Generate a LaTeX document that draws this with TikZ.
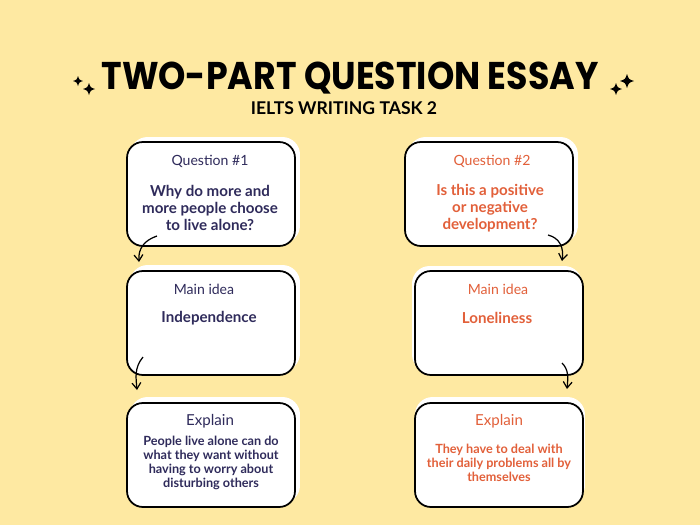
\documentclass[tikz,border=0pt]{standalone}
\usepackage{fontspec}
\setmainfont{Lato}
\newfontfamily\titlefont{Poppins}
\usetikzlibrary{arrows.meta}
\definecolor{bgyellow}{HTML}{FEE9A2}
\definecolor{navy}{HTML}{2F2B5B}
\definecolor{brick}{HTML}{E2603A}
\tikzset{
  box/.style={draw=black, line width=1pt, fill=white, rounded corners=9pt,
    minimum width=3.36cm, minimum height=2.08cm, inner sep=0pt},
  halo/.style={fill=white, rounded corners=10pt, minimum width=3.4cm,
    minimum height=2.12cm, inner sep=0pt},
  head/.style={font=\fontsize{8}{10}\selectfont, align=center},
  body/.style={font=\fontsize{8.6}{9.7}\selectfont\bfseries, align=center},
  small/.style={font=\fontsize{7.2}{8}\selectfont\bfseries, align=center},
  flow/.style={-{Straight Barb[length=3.5pt,width=5pt]}, line width=0.7pt},
  sparkle/.pic={\fill (0,-1) .. controls (0.25,-0.25) .. (1,0) .. controls (0.25,0.25) .. (0,1)
    .. controls (-0.25,0.25) .. (-1,0) .. controls (-0.25,-0.25) .. cycle;}
}
\begin{document}
\begin{tikzpicture}[x=0.02cm,y=-0.02cm]
  \fill[bgyellow] (0,0) rectangle (700,525);
  \useasboundingbox (0,0) rectangle (700,525);

  % title
  \node[font=\titlefont\fontsize{22}{26}\selectfont\bfseries] (title) at (350,78) {\scalebox{0.9}[1]{TWO-PART QUESTION ESSAY}};
  \node[font=\fontsize{10}{12}\selectfont\bfseries] (subtitle) at (344,108) {IELTS WRITING TASK 2};
  \pic[scale=5] at (78,81) {sparkle};
  \pic[scale=6] at (89,89) {sparkle};
  \pic[scale=7] at (627,81) {sparkle};
  \pic[scale=6] at (616,89) {sparkle};

  % white halos behind the boxes
  \node[halo] at (215,190) {};
  \node[halo] at (215,318) {};
  \node[halo] at (215,450) {};
  \node[halo] at (493,190) {};
  \node[halo] at (497,319) {};
  \node[halo] at (500,450) {};

  % left column
  \node[box] (q1) at (211,194) {};
  \node[box] (m1) at (211,323) {};
  \node[box] (e1) at (211,455) {};
  \node[head, navy] (q1h) at (210,161) {Question \#1};
  \node[body, navy] (q1t) at (210,208) {Why do more and\\more people choose\\to live alone?};
  \node[head, navy] (m1h) at (204,289) {Main idea};
  \node[body, navy] (m1t) at (209,318) {Independence};
  \node[head, navy, font=\fontsize{8.6}{10}\selectfont] (e1h) at (210,421) {Explain};
  \node[small, navy] (e1t) at (211,463) {People live alone can do\\what they want without\\having to worry about\\disturbing others};

  % right column
  \node[box] (q2) at (489,194) {};
  \node[box] (m2) at (499,323) {};
  \node[box] (e2) at (499,455) {};
  \node[head, brick] (q2h) at (492,161) {Question \#2};
  \node[body, brick] (q2t) at (490,208) {Is this a positive\\or negative\\development?};
  \node[head, brick] (m2h) at (498,289) {Main idea};
  \node[body, brick] (m2t) at (497,318) {Loneliness};
  \node[head, brick, font=\fontsize{8.6}{10}\selectfont] (e2h) at (499,421) {Explain};
  \node[small, brick] (e2t) at (499,463) {They have to deal with\\their daily problems all by\\themselves};

  % connectors
  \coordinate (a1) at (157,236);
  \coordinate (a2) at (139,262);
  \coordinate (b1) at (143,357);
  \coordinate (b2) at (137,390);
  \coordinate (c1) at (548,235);
  \coordinate (c2) at (562,261);
  \coordinate (d1) at (562,363);
  \coordinate (d2) at (567,389);
  \draw[flow] (a1) .. controls (145,240) and (138,248) .. (a2);
  \draw[flow] (b1) .. controls (134,368) and (136,378) .. (b2);
  \draw[flow] (c1) .. controls (560,238) and (564,248) .. (c2);
  \draw[flow] (d1) .. controls (569,370) and (568,378) .. (d2);
\end{tikzpicture}
\end{document}
